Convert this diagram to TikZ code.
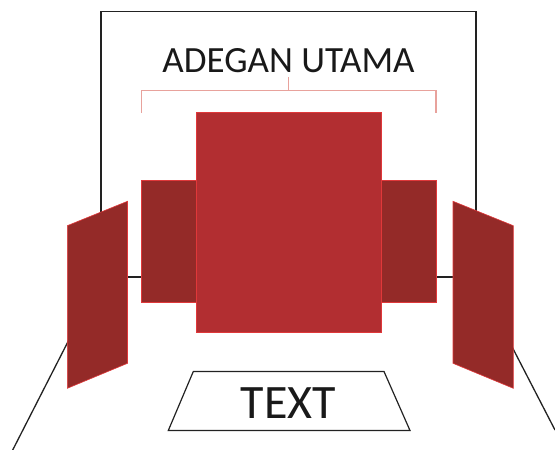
\documentclass[tikz,border=0pt]{standalone}
\usepackage{fontspec}
\setmainfont{Carlito}
\definecolor{mainred}{HTML}{B22E31}
\definecolor{darkred}{HTML}{942A28}
\definecolor{edgered}{HTML}{E0383A}
\definecolor{bracketred}{HTML}{E8A29C}
\definecolor{linegray}{HTML}{222222}
\tikzset{
  frameline/.style={draw=linegray,line width=1.3pt},
  mainbox/.style={fill=mainred,draw=edgered,line width=0.9pt},
  sidebox/.style={fill=darkred,draw=edgered,line width=0.6pt},
  bracketline/.style={draw=bracketred,line width=1.1pt},
  label/.style={inner sep=0pt,text=black!90}
}
\begin{document}
\begin{tikzpicture}[x=1pt,y=-1pt]
\useasboundingbox (0,0) rectangle (555,450);
% room frame
\coordinate (fTL) at (101,11.5);
\coordinate (fTR) at (476,11.5);
\coordinate (fBL) at (101,277);
\coordinate (fBR) at (476,277);
\coordinate (floorL) at (12.7,450);
\coordinate (floorR) at (555,430);
\draw[frameline] (fTL) -- (fTR) -- (fBR) -- (fBL) -- cycle;
\draw[frameline] (fBL) -- (floorL);
\draw[frameline] (fBR) -- (floorR);
% title
\node[label,font=\fontsize{37}{42}\selectfont,anchor=base] (title) at (288.5,72) {ADEGAN UTAMA};
% bracket
\coordinate (brL) at (141.6,112.7);
\coordinate (brR) at (436,112.7);
\coordinate (brM) at (288.5,90.7);
\coordinate (brT) at (288.5,77);
\draw[bracketline] (brL) -- (141.6,90.7) -- (436,90.7) -- (brR);
\draw[bracketline] (brT) -- (brM);
% side boxes
\draw[sidebox] (141.6,180) rectangle (196.5,302.7);
\draw[sidebox] (381.6,180) rectangle (436.5,302.7);
% main box
\draw[mainbox] (196.5,112) rectangle (381.6,332);
% wings
\draw[sidebox] (67.3,225.7) -- (127.5,201.3) -- (127.5,363.3) -- (67.3,388.3) -- cycle;
\draw[sidebox] (453,201.3) -- (513.3,225.7) -- (513.3,388.3) -- (453,363.3) -- cycle;
% text trapezoid
\draw[frameline,line width=1.2pt] (193.3,371.5) -- (384,371.5) -- (410,430.5) -- (168.3,430.5) -- cycle;
\node[label,font=\fontsize{48}{52}\selectfont,anchor=base] (txt) at (288.5,418.5) {TEXT};
\end{tikzpicture}
\end{document}
